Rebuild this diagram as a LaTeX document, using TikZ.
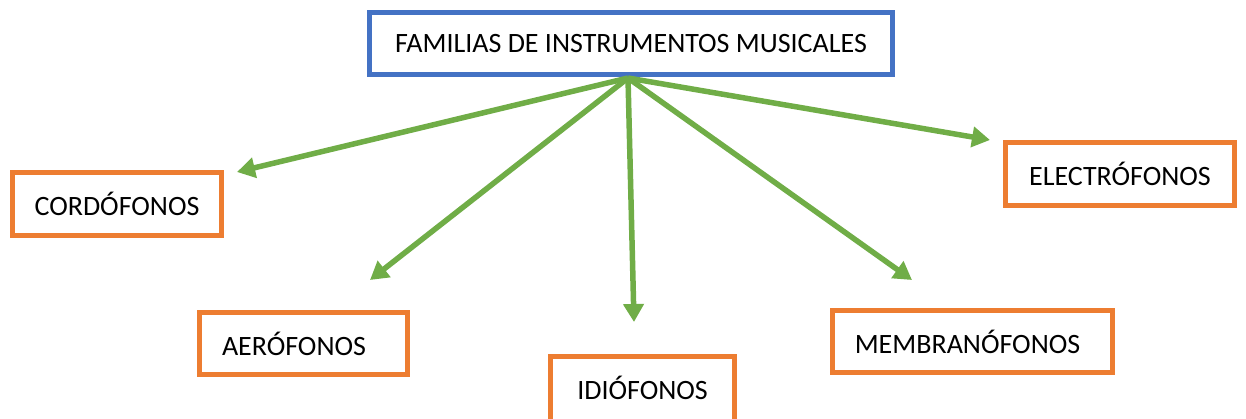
\documentclass[tikz,border=0pt]{standalone}
\usepackage{fontspec}
\setmainfont{Carlito}
\usetikzlibrary{arrows.meta}
\definecolor{bblue}{HTML}{4472C4}
\definecolor{borange}{HTML}{ED7D31}
\definecolor{bgreen}{HTML}{70AD47}
\tikzset{
  topbox/.style={draw=bblue, line width=5pt, fill=white, inner sep=0pt, font=\fontsize{28}{32}\selectfont},
  famb/.style={draw=borange, line width=5pt, fill=white, inner sep=0pt, font=\fontsize{28}{32}\selectfont},
  conn/.style={draw=bgreen, line width=5.5pt, -{Triangle[length=18pt,width=20pt]}}
}
\begin{document}
\begin{tikzpicture}[x=1pt,y=-1pt]
\useasboundingbox (0,0) rectangle (1246,418);
\node[topbox, minimum width=523pt, minimum height=62pt] (top) at (631,43.5) {FAMILIAS DE INSTRUMENTOS MUSICALES};
\node[famb, minimum width=209pt, minimum height=63pt] (cord) at (117,204) {CORDÓFONOS};
\node[famb, minimum width=229pt, minimum height=63pt] (elec) at (1120,174) {ELECTRÓFONOS};
\node[famb, minimum width=208pt, minimum height=62pt] (aero) at (303.5,343.5) {\hspace*{-19pt}AERÓFONOS};
\node[famb, minimum width=184pt, minimum height=76pt, anchor=north] (idio) at (642.5,353.5) {\raisebox{13pt}{IDIÓFONOS}};
\node[famb, minimum width=280pt, minimum height=62pt] (memb) at (972.5,341.5) {\hspace*{-10pt}MEMBRANÓFONOS};
\coordinate (src) at (628,78);
\coordinate (tc) at (237,172);
\coordinate (ta) at (370,280);
\coordinate (ti) at (634,322);
\coordinate (tm) at (912,280);
\coordinate (te) at (990,140);
\draw[conn] (src) -- (tc);
\draw[conn] (src) -- (ta);
\draw[conn] (src) -- (ti);
\draw[conn] (src) -- (tm);
\draw[conn] (src) -- (te);
\end{tikzpicture}
\end{document}
